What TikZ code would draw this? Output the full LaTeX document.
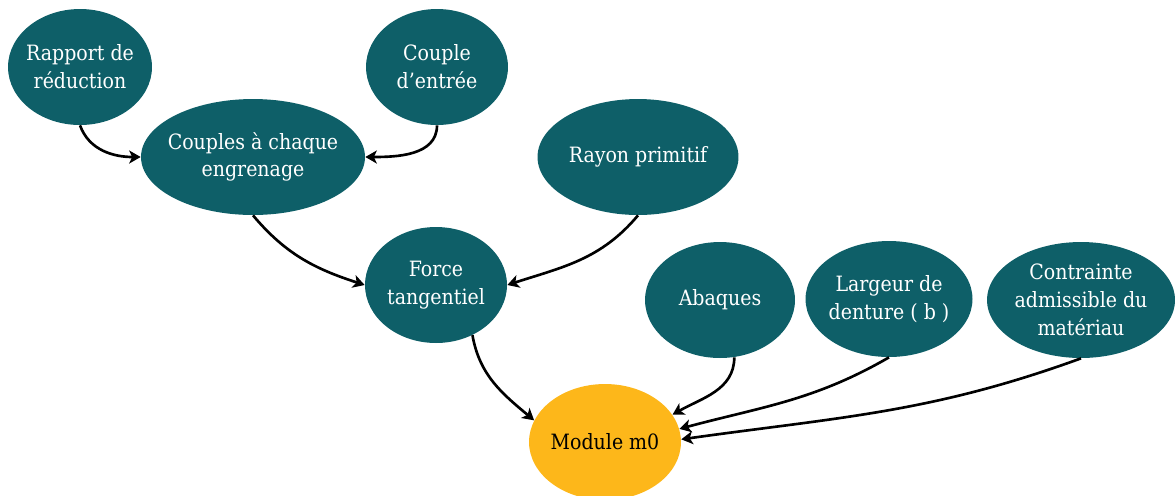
\documentclass[tikz,border=0pt]{standalone}
\usepackage{fontspec}
\setmainfont{DejaVu Serif Condensed}
\usetikzlibrary{arrows.meta,shapes.geometric}
\definecolor{petrol}{RGB}{14,95,104}
\definecolor{mangue}{RGB}{253,183,26}

\begin{document}
\begin{tikzpicture}[
  x=0.02cm, y=-0.02cm,
  bulle/.style={ellipse, fill=petrol, text=white, inner sep=-0.45cm,
                minimum height=2.32cm, align=center,
                font=\fontsize{12}{15.8}\selectfont},
  fleche/.style={-{Stealth[length=2.3mm, width=2.6mm, inset=0.6mm]},
                 line width=1.5pt}]

  \useasboundingbox (0,0) rectangle (1175,495);

  % entrees du calcul
  \node[bulle, minimum width=2.88cm] (rapport) at (80,67) {Rapport de\\réduction};
  \node[bulle, minimum width=2.84cm] (entree) at (437,67) {Couple\\d’entrée};
  \node[bulle, minimum width=4.48cm] (couples) at (253,157) {Couples à chaque\\engrenage};
  \node[bulle, minimum width=4.02cm] (rayon) at (638,157) {Rayon primitif};
  \node[bulle, minimum width=2.84cm] (force) at (436,285) {Force\\tangentiel};
  \node[bulle, minimum width=3.0cm] (abaques) at (720,300) {Abaques};
  \node[bulle, minimum width=3.34cm] (largeur) at (889,299) {Largeur de\\denture ( b )};
  \node[bulle, minimum width=3.76cm] (contrainte) at (1081,300)
    {Contrainte\\admissible du\\matériau};

  % resultat
  \node[bulle, fill=mangue, text=black, minimum width=3.04cm] (module) at (605,442)
    {Module m0};

  % liaisons
  \draw[fleche] (rapport.south) to[out=-70, in=180] (couples.west);
  \draw[fleche] (entree.south) to[out=-90, in=0] (couples.east);
  \draw[fleche] (couples.south) to[out=-50, in=162] (force.west);
  \draw[fleche] (rayon.south) to[out=-130, in=18] (force.east);
  \draw[fleche] (force.-54) to[out=-80, in=140] (module.163);
  \draw[fleche] (abaques.-76) to[out=-90, in=30] (module.22);
  \draw[fleche] (largeur.south) to[out=-150, in=15] (module.10);
  \draw[fleche] (contrainte.south) to[out=-160, in=8] (module.2);
\end{tikzpicture}
\end{document}
